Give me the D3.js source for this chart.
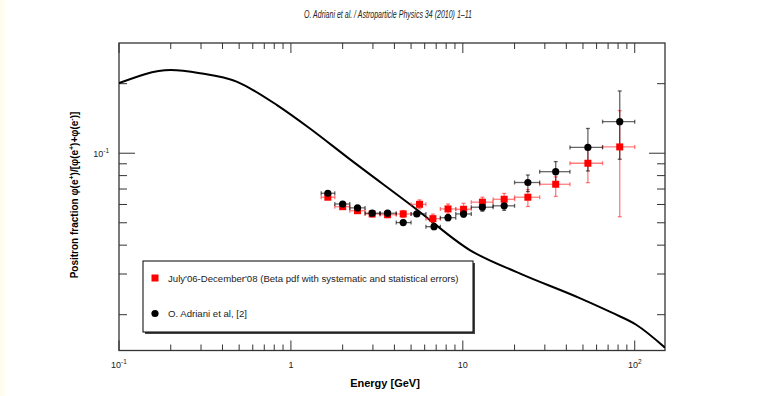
<!DOCTYPE html>
<html>
<head>
<meta charset="utf-8">
<script src="https://cdn.jsdelivr.net/npm/d3@7"></script>
<style>
  body { margin: 0; background: #fff; }
  svg { display: block; font-family: "Liberation Sans", Arial, sans-serif; }
</style>
</head>
<body>
<div id="chart"></div>
<script>
// ---- data ----
const binLo = [1.5, 1.8, 2.2, 2.7, 3.3, 4.1, 5.0, 6.1, 7.4, 9.1, 11.2, 15.0, 20.0, 28.0, 42.0, 65.0];
const binHi = [1.8, 2.2, 2.7, 3.3, 4.1, 5.0, 6.1, 7.4, 9.1, 11.2, 15.0, 20.0, 28.0, 42.0, 65.0, 100.0];

const energyBlack = [1.64, 2.0, 2.44, 2.97, 3.65, 4.5, 5.4, 6.8, 8.2, 10.1, 13.0, 17.4, 23.9, 34.7, 53.4, 81.8];
const fracBlack   = [0.0671, 0.0603, 0.0580, 0.0550, 0.0550, 0.0501, 0.0546, 0.0481, 0.0526, 0.0546, 0.0584, 0.0592, 0.0747, 0.0832, 0.106, 0.137];
const loBlack     = [0.0658, 0.0592, 0.0568, 0.0540, 0.0539, 0.0490, 0.0533, 0.0468, 0.0511, 0.0528, 0.0561, 0.0566, 0.0682, 0.0753, 0.0838, 0.0942];
const hiBlack     = [0.0684, 0.0615, 0.0592, 0.0561, 0.0562, 0.0513, 0.0559, 0.0494, 0.0541, 0.0564, 0.0607, 0.0620, 0.0805, 0.0920, 0.128, 0.186];

const energyRed = [1.64, 2.0, 2.44, 2.97, 3.65, 4.5, 5.6, 6.7, 8.2, 10.1, 13.0, 17.4, 23.9, 34.7, 53.4, 81.8];
const fracRed   = [0.0645, 0.0587, 0.0564, 0.0546, 0.0542, 0.0546, 0.0601, 0.0521, 0.0574, 0.0572, 0.0614, 0.0632, 0.0645, 0.0734, 0.0905, 0.1065];
const loRed     = [0.0632, 0.0575, 0.0550, 0.0530, 0.0526, 0.0527, 0.0575, 0.0498, 0.0546, 0.0539, 0.0584, 0.0596, 0.0588, 0.0650, 0.0746, 0.0531];
const hiRed     = [0.0658, 0.0599, 0.0578, 0.0562, 0.0558, 0.0565, 0.0628, 0.0545, 0.0603, 0.0607, 0.0645, 0.0670, 0.0696, 0.0790, 0.108, 0.153];

// secondary production curve
const curveE = [0.1, 0.2, 0.296, 0.483, 0.578, 0.826, 1.29, 2.15, 5.14, 10.98, 21.4, 47.9, 74.8, 102, 150];
const curveF = [0.201, 0.229, 0.222, 0.204, 0.191, 0.162, 0.128, 0.0955, 0.0587, 0.0381, 0.0302, 0.0236, 0.0203, 0.0181, 0.0144];

const legendLabels = ["July'06-December'08 (Beta pdf with systematic and statistical errors)", "O. Adriani et al, [2]"];

// ---- layout ----
const width = 777, height = 396;
const margin = {left: 119, right: 112, top: 43, bottom: 45.5};
const plotW = width - margin.left - margin.right;
const plotH = height - margin.top - margin.bottom;

const svg = d3.select("#chart").append("svg")
  .attr("width", width)
  .attr("height", height);

svg.append("rect").attr("width", width).attr("height", height).attr("fill", "#fff");
svg.append("rect").attr("width", 5).attr("height", height).attr("fill", "#fffdf0");

svg.append("text")
  .attr("x", 388).attr("y", 18)
  .attr("text-anchor", "middle")
  .attr("font-family", "'Liberation Sans Narrow', 'Liberation Sans', sans-serif")
  .attr("font-style", "italic")
  .attr("font-size", 10.5)
  .attr("fill", "#222")
  .attr("textLength", 168)
  .attr("lengthAdjust", "spacingAndGlyphs")
  .text("O. Adriani et al. / Astroparticle Physics 34 (2010) 1–11");

const g = svg.append("g").attr("transform", `translate(${margin.left}, ${margin.top})`);

const x = d3.scaleLog().domain([0.1, 150]).range([0, plotW]);
const y = d3.scaleLog().domain([0.014, 0.3]).range([plotH, 0]);

g.append("clipPath").attr("id", "clip")
  .append("rect").attr("width", plotW).attr("height", plotH);

// ---- ticks (all four sides, pointing inward) ----
const xTicks = d3.range(-1, 3).flatMap(p => d3.range(1, 10).map(m => m * Math.pow(10, p))).filter(v => v >= 0.1 && v <= 150);
const yTicks = d3.range(-2, 0).flatMap(p => d3.range(1, 10).map(m => m * Math.pow(10, p))).filter(v => v >= 0.014 && v <= 0.3);
const isMajor = v => Math.abs(Math.log10(v) - Math.round(Math.log10(v))) < 1e-6;

const ticks = g.append("g").attr("stroke", "#333").attr("stroke-width", 1);
xTicks.forEach(v => {
  const len = isMajor(v) ? 10 : 6;
  ticks.append("line").attr("x1", x(v)).attr("x2", x(v)).attr("y1", plotH).attr("y2", plotH - len);
  ticks.append("line").attr("x1", x(v)).attr("x2", x(v)).attr("y1", 0).attr("y2", len);
});
yTicks.forEach(v => {
  const len = isMajor(v) ? 16 : 8;
  ticks.append("line").attr("y1", y(v)).attr("y2", y(v)).attr("x1", 0).attr("x2", len);
  ticks.append("line").attr("y1", y(v)).attr("y2", y(v)).attr("x1", plotW).attr("x2", plotW - len);
});

// frame
g.append("rect").attr("width", plotW).attr("height", plotH)
  .attr("fill", "none").attr("stroke", "#333").attr("stroke-width", 1.3);

// ---- tick labels ----
function powLabel(sel, base, exp) {
  sel.append("tspan").text(base);
  if (exp !== null) sel.append("tspan").attr("dy", -4).attr("font-size", 6.5).text(exp);
}
const xLabels = [[0.1, "10", "-1"], [1, "1", null], [10, "10", null], [100, "10", "2"]];
xLabels.forEach(([v, b, e]) => {
  const t = g.append("text").attr("x", x(v)).attr("y", plotH + 17)
    .attr("text-anchor", "middle").attr("font-size", 9).attr("fill", "#222");
  powLabel(t, b, e);
});
const yl = g.append("text").attr("x", -10).attr("y", y(0.1) + 4)
  .attr("text-anchor", "end").attr("font-size", 9).attr("fill", "#222");
powLabel(yl, "10", "-1");

// axis titles
g.append("text").attr("x", plotW / 2 - 7).attr("y", plotH + 36)
  .attr("text-anchor", "middle").attr("font-size", 11).attr("font-weight", "bold")
  .text("Energy [GeV]");

const yt = g.append("text")
  .attr("transform", `translate(${-41}, ${152}) rotate(-90)`)
  .attr("text-anchor", "middle").attr("font-size", 10).attr("font-weight", "bold");
yt.append("tspan").text("Positron fraction φ(e");
yt.append("tspan").attr("dy", -4).attr("font-size", 7).text("+");
yt.append("tspan").attr("dy", 4).text(")/[φ(e");
yt.append("tspan").attr("dy", -4).attr("font-size", 7).text("+");
yt.append("tspan").attr("dy", 4).text(")+φ(e");
yt.append("tspan").attr("dy", -4).attr("font-size", 7).text("-");
yt.append("tspan").attr("dy", 4).text(")]");

// ---- curve ----
const line = d3.line()
  .x((d, i) => x(curveE[i]))
  .y((d, i) => y(curveF[i]))
  .curve(d3.curveMonotoneX);
g.append("path").datum(curveE)
  .attr("clip-path", "url(#clip)")
  .attr("d", line)
  .attr("fill", "none").attr("stroke", "#000").attr("stroke-width", 2);

// ---- error bars ----
function errorBars(energy, frac, lo, hi, color) {
  const eb = g.append("g").attr("stroke", color).attr("stroke-width", 1.3);
  energy.forEach((e, i) => {
    const cx = x(e), cy = y(frac[i]);
    const x0 = x(binLo[i]), x1 = x(binHi[i]);
    const y0 = y(lo[i]), y1 = y(hi[i]);
    eb.append("line").attr("x1", x0).attr("x2", x1).attr("y1", cy).attr("y2", cy);
    eb.append("line").attr("x1", x0).attr("x2", x0).attr("y1", cy - 2).attr("y2", cy + 2);
    eb.append("line").attr("x1", x1).attr("x2", x1).attr("y1", cy - 2).attr("y2", cy + 2);
    eb.append("line").attr("x1", cx).attr("x2", cx).attr("y1", y0).attr("y2", y1);
    eb.append("line").attr("x1", cx - 2).attr("x2", cx + 2).attr("y1", y0).attr("y2", y0);
    eb.append("line").attr("x1", cx - 2).attr("x2", cx + 2).attr("y1", y1).attr("y2", y1);
  });
}
errorBars(energyRed, fracRed, loRed, hiRed, "rgba(255,40,40,0.6)");
errorBars(energyBlack, fracBlack, loBlack, hiBlack, "rgba(0,0,0,0.6)");

g.append("g").selectAll("rect")
  .data(energyRed)
  .enter()
  .append("rect")
  .attr("x", (d) => x(d) - 3.5)
  .attr("y", (d, i) => y(fracRed[i]) - 3.5)
  .attr("width", 7).attr("height", 7)
  .attr("fill", "#f00");

g.append("g").selectAll("circle")
  .data(energyBlack)
  .enter()
  .append("circle")
  .attr("cx", (d) => x(d))
  .attr("cy", (d, i) => y(fracBlack[i]))
  .attr("r", 3.6)
  .attr("fill", "#000");

// ---- legend ----
const lg = svg.append("g").attr("transform", "translate(143, 261)");
lg.append("rect").attr("x", 2).attr("y", 2).attr("width", 330).attr("height", 71).attr("fill", "#444");
lg.append("rect").attr("width", 330).attr("height", 71).attr("fill", "#fff").attr("stroke", "#000").attr("stroke-width", 1);
lg.append("rect").attr("x", 8.5).attr("y", 13.5).attr("width", 7).attr("height", 7).attr("fill", "#f00");
lg.append("circle").attr("cx", 12).attr("cy", 52.5).attr("r", 3.6).attr("fill", "#000");
legendLabels.forEach((t, i) => {
  lg.append("text").attr("x", 25).attr("y", i === 0 ? 20.5 : 55.5)
    .attr("font-size", 9.6).attr("fill", "#222").text(t);
});
</script>
</body>
</html>
